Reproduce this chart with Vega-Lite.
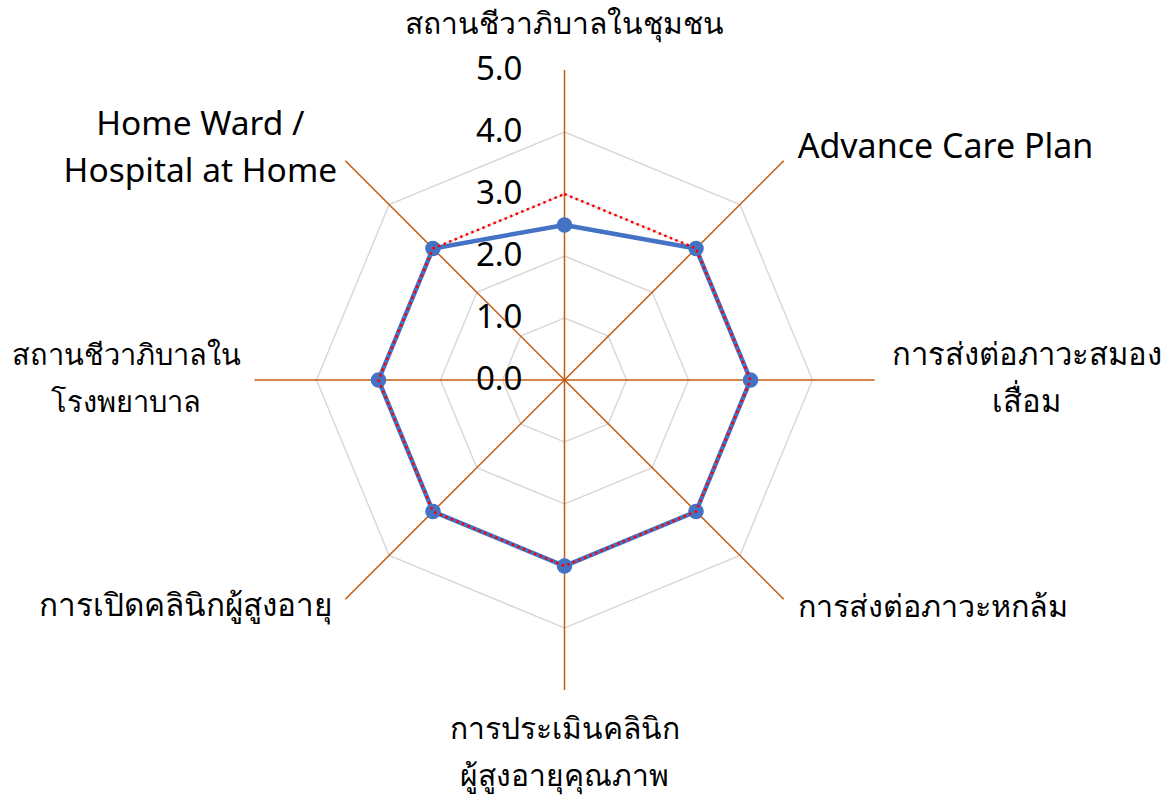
{
  "$schema": "https://vega.github.io/schema/vega-lite/v6.json",
  "width": 1168,
  "height": 799,
  "autosize": {"type": "none"},
  "padding": 0,
  "background": "white",
  "config": {"view": {"stroke": null}, "font": "Noto Sans"},
  "datasets": {
    "cats": [
      {"category": "สถานชีวาภิบาลในชุมชน", "label": "สถานชีวาภิบาลในชุมชน", "idx": 0, "a": 2.5, "b": 3.0},
      {"category": "Advance Care Plan", "label": "Advance Care Plan", "idx": 1, "a": 3.0, "b": 3.0},
      {"category": "การส่งต่อภาวะสมองเสื่อม", "label": "การส่งต่อภาวะสมอง\nเสื่อม", "idx": 2, "a": 3.0, "b": 3.0},
      {"category": "การส่งต่อภาวะหกล้ม", "label": "การส่งต่อภาวะหกล้ม", "idx": 3, "a": 3.0, "b": 3.0},
      {"category": "การประเมินคลินิกผู้สูงอายุคุณภาพ", "label": "การประเมินคลินิก\nผู้สูงอายุคุณภาพ", "idx": 4, "a": 3.0, "b": 3.0},
      {"category": "การเปิดคลินิกผู้สูงอายุ", "label": "การเปิดคลินิกผู้สูงอายุ", "idx": 5, "a": 3.0, "b": 3.0},
      {"category": "สถานชีวาภิบาลในโรงพยาบาล", "label": "สถานชีวาภิบาลใน\nโรงพยาบาล", "idx": 6, "a": 3.0, "b": 3.0},
      {"category": "Home Ward / Hospital at Home", "label": "Home Ward /\nHospital at Home", "idx": 7, "a": 3.0, "b": 3.0}
    ],
    "rings": [
      {"level": 1, "idx": 0}, {"level": 1, "idx": 1}, {"level": 1, "idx": 2}, {"level": 1, "idx": 3},
      {"level": 1, "idx": 4}, {"level": 1, "idx": 5}, {"level": 1, "idx": 6}, {"level": 1, "idx": 7},
      {"level": 2, "idx": 0}, {"level": 2, "idx": 1}, {"level": 2, "idx": 2}, {"level": 2, "idx": 3},
      {"level": 2, "idx": 4}, {"level": 2, "idx": 5}, {"level": 2, "idx": 6}, {"level": 2, "idx": 7},
      {"level": 3, "idx": 0}, {"level": 3, "idx": 1}, {"level": 3, "idx": 2}, {"level": 3, "idx": 3},
      {"level": 3, "idx": 4}, {"level": 3, "idx": 5}, {"level": 3, "idx": 6}, {"level": 3, "idx": 7},
      {"level": 4, "idx": 0}, {"level": 4, "idx": 1}, {"level": 4, "idx": 2}, {"level": 4, "idx": 3},
      {"level": 4, "idx": 4}, {"level": 4, "idx": 5}, {"level": 4, "idx": 6}, {"level": 4, "idx": 7}
    ],
    "ticks": [{"v": 0}, {"v": 1}, {"v": 2}, {"v": 3}, {"v": 4}, {"v": 5}]
  },
  "layer": [
    {
      "data": {"name": "rings"},
      "transform": [
        {"calculate": "datum.idx * PI / 4", "as": "ang"},
        {"calculate": "datum.level * sin(datum.ang)", "as": "px"},
        {"calculate": "datum.level * cos(datum.ang)", "as": "py"}
      ],
      "mark": {"type": "line", "interpolate": "linear-closed", "color": "#D9D9D9", "strokeWidth": 1.5},
      "encoding": {
        "x": {"field": "px", "type": "quantitative", "scale": {"domain": [-9.105, 9.734], "nice": false, "zero": false}, "axis": null},
        "y": {"field": "py", "type": "quantitative", "scale": {"domain": [-6.758, 6.129], "nice": false, "zero": false}, "axis": null},
        "detail": {"field": "level", "type": "nominal"},
        "order": {"field": "idx", "type": "quantitative"}
      }
    },
    {
      "data": {"name": "cats"},
      "transform": [
        {"calculate": "datum.idx * PI / 4", "as": "ang"},
        {"calculate": "5 * sin(datum.ang)", "as": "ex"},
        {"calculate": "5 * cos(datum.ang)", "as": "ey"}
      ],
      "mark": {"type": "rule", "color": "#C55A11", "strokeWidth": 1.5},
      "encoding": {
        "x": {"field": "ex", "type": "quantitative", "scale": {"domain": [-9.105, 9.734], "nice": false, "zero": false}, "axis": null},
        "y": {"field": "ey", "type": "quantitative", "scale": {"domain": [-6.758, 6.129], "nice": false, "zero": false}, "axis": null},
        "x2": {"datum": 0},
        "y2": {"datum": 0}
      }
    },
    {
      "data": {"name": "ticks"},
      "transform": [{"calculate": "0", "as": "zx"}],
      "mark": {"type": "text", "align": "right", "baseline": "middle", "dx": -42, "fontSize": 33, "color": "#000000"},
      "encoding": {
        "x": {"field": "zx", "type": "quantitative", "scale": {"domain": [-9.105, 9.734], "nice": false, "zero": false}, "axis": null},
        "y": {"field": "v", "type": "quantitative", "scale": {"domain": [-6.758, 6.129], "nice": false, "zero": false}, "axis": null},
        "text": {"field": "v", "type": "quantitative", "format": ".1f"}
      }
    },
    {
      "data": {"name": "cats"},
      "transform": [
        {"calculate": "datum.idx * PI / 4", "as": "ang"},
        {"calculate": "datum.a * sin(datum.ang)", "as": "px"},
        {"calculate": "datum.a * cos(datum.ang)", "as": "py"}
      ],
      "mark": {"type": "line", "interpolate": "linear-closed", "color": "#4472C4", "strokeWidth": 4.5},
      "encoding": {
        "x": {"field": "px", "type": "quantitative", "scale": {"domain": [-9.105, 9.734], "nice": false, "zero": false}, "axis": null},
        "y": {"field": "py", "type": "quantitative", "scale": {"domain": [-6.758, 6.129], "nice": false, "zero": false}, "axis": null},
        "order": {"field": "idx", "type": "quantitative"}
      }
    },
    {
      "data": {"name": "cats"},
      "transform": [
        {"calculate": "datum.idx * PI / 4", "as": "ang"},
        {"calculate": "datum.a * sin(datum.ang)", "as": "px"},
        {"calculate": "datum.a * cos(datum.ang)", "as": "py"}
      ],
      "mark": {"type": "circle", "color": "#4472C4", "size": 240, "opacity": 1},
      "encoding": {
        "x": {"field": "px", "type": "quantitative", "scale": {"domain": [-9.105, 9.734], "nice": false, "zero": false}, "axis": null},
        "y": {"field": "py", "type": "quantitative", "scale": {"domain": [-6.758, 6.129], "nice": false, "zero": false}, "axis": null}
      }
    },
    {
      "data": {"name": "cats"},
      "transform": [
        {"calculate": "datum.idx * PI / 4", "as": "ang"},
        {"calculate": "datum.b * sin(datum.ang)", "as": "px"},
        {"calculate": "datum.b * cos(datum.ang)", "as": "py"}
      ],
      "mark": {"type": "line", "interpolate": "linear-closed", "color": "#FF0000", "strokeWidth": 2.5, "strokeDash": [2.5, 3.5]},
      "encoding": {
        "x": {"field": "px", "type": "quantitative", "scale": {"domain": [-9.105, 9.734], "nice": false, "zero": false}, "axis": null},
        "y": {"field": "py", "type": "quantitative", "scale": {"domain": [-6.758, 6.129], "nice": false, "zero": false}, "axis": null},
        "order": {"field": "idx", "type": "quantitative"}
      }
    },
    {
      "data": {"name": "cats"},
      "transform": [
        {"calculate": "datum.idx * PI / 4", "as": "ang"},
        {"calculate": "5.25 * sin(datum.ang)", "as": "lx"},
        {"calculate": "5.25 * cos(datum.ang)", "as": "ly"}
      ],
      "layer": [
        {
          "transform": [{"filter": "datum.idx == 0"}],
          "mark": {"type": "text", "align": "center", "baseline": "middle", "dy": -29, "fontSize": 30, "lineBreak": "\n", "lineHeight": 47, "color": "#000000"},
          "encoding": {
            "x": {"field": "lx", "type": "quantitative", "scale": {"domain": [-9.105, 9.734], "nice": false, "zero": false}, "axis": null},
            "y": {"field": "ly", "type": "quantitative", "scale": {"domain": [-6.758, 6.129], "nice": false, "zero": false}, "axis": null},
            "text": {"field": "label", "type": "nominal"}
          }
        },
        {
          "transform": [{"filter": "datum.idx == 1"}],
          "mark": {"type": "text", "align": "left", "baseline": "middle", "dx": 3, "dy": -2, "fontSize": 34, "lineBreak": "\n", "lineHeight": 47, "color": "#000000"},
          "encoding": {
            "x": {"field": "lx", "type": "quantitative", "scale": {"domain": [-9.105, 9.734], "nice": false, "zero": false}, "axis": null},
            "y": {"field": "ly", "type": "quantitative", "scale": {"domain": [-6.758, 6.129], "nice": false, "zero": false}, "axis": null},
            "text": {"field": "label", "type": "nominal"}
          }
        },
        {
          "transform": [{"filter": "datum.idx == 3"}],
          "mark": {"type": "text", "align": "left", "baseline": "middle", "dx": 3, "dy": -2, "fontSize": 30.5, "lineBreak": "\n", "lineHeight": 47, "color": "#000000"},
          "encoding": {
            "x": {"field": "lx", "type": "quantitative", "scale": {"domain": [-9.105, 9.734], "nice": false, "zero": false}, "axis": null},
            "y": {"field": "ly", "type": "quantitative", "scale": {"domain": [-6.758, 6.129], "nice": false, "zero": false}, "axis": null},
            "text": {"field": "label", "type": "nominal"}
          }
        },
        {
          "transform": [{"filter": "datum.idx == 5"}],
          "mark": {"type": "text", "align": "right", "baseline": "middle", "dx": -2, "dy": -3, "fontSize": 31.5, "lineBreak": "\n", "lineHeight": 47, "color": "#000000"},
          "encoding": {
            "x": {"field": "lx", "type": "quantitative", "scale": {"domain": [-9.105, 9.734], "nice": false, "zero": false}, "axis": null},
            "y": {"field": "ly", "type": "quantitative", "scale": {"domain": [-6.758, 6.129], "nice": false, "zero": false}, "axis": null},
            "text": {"field": "label", "type": "nominal"}
          }
        },
        {
          "transform": [{"filter": "datum.idx == 2"}],
          "mark": {"type": "text", "align": "center", "baseline": "middle", "dx": 137, "dy": -24, "fontSize": 31, "lineBreak": "\n", "lineHeight": 47, "color": "#000000"},
          "encoding": {
            "x": {"field": "lx", "type": "quantitative", "scale": {"domain": [-9.105, 9.734], "nice": false, "zero": false}, "axis": null},
            "y": {"field": "ly", "type": "quantitative", "scale": {"domain": [-6.758, 6.129], "nice": false, "zero": false}, "axis": null},
            "text": {"field": "label", "type": "nominal"}
          }
        },
        {
          "transform": [{"filter": "datum.idx == 4"}],
          "mark": {"type": "text", "align": "center", "baseline": "middle", "dy": 24, "fontSize": 30, "lineBreak": "\n", "lineHeight": 47, "color": "#000000"},
          "encoding": {
            "x": {"field": "lx", "type": "quantitative", "scale": {"domain": [-9.105, 9.734], "nice": false, "zero": false}, "axis": null},
            "y": {"field": "ly", "type": "quantitative", "scale": {"domain": [-6.758, 6.129], "nice": false, "zero": false}, "axis": null},
            "text": {"field": "label", "type": "nominal"}
          }
        },
        {
          "transform": [{"filter": "datum.idx == 6"}],
          "mark": {"type": "text", "align": "center", "baseline": "middle", "dx": -113, "dy": -24, "fontSize": 29, "lineBreak": "\n", "lineHeight": 47, "color": "#000000"},
          "encoding": {
            "x": {"field": "lx", "type": "quantitative", "scale": {"domain": [-9.105, 9.734], "nice": false, "zero": false}, "axis": null},
            "y": {"field": "ly", "type": "quantitative", "scale": {"domain": [-6.758, 6.129], "nice": false, "zero": false}, "axis": null},
            "text": {"field": "label", "type": "nominal"}
          }
        },
        {
          "transform": [{"filter": "datum.idx == 7"}],
          "mark": {"type": "text", "align": "center", "baseline": "middle", "dx": -134, "dy": -25, "fontSize": 33.5, "lineBreak": "\n", "lineHeight": 47, "color": "#000000"},
          "encoding": {
            "x": {"field": "lx", "type": "quantitative", "scale": {"domain": [-9.105, 9.734], "nice": false, "zero": false}, "axis": null},
            "y": {"field": "ly", "type": "quantitative", "scale": {"domain": [-6.758, 6.129], "nice": false, "zero": false}, "axis": null},
            "text": {"field": "label", "type": "nominal"}
          }
        }
      ]
    }
  ]
}
